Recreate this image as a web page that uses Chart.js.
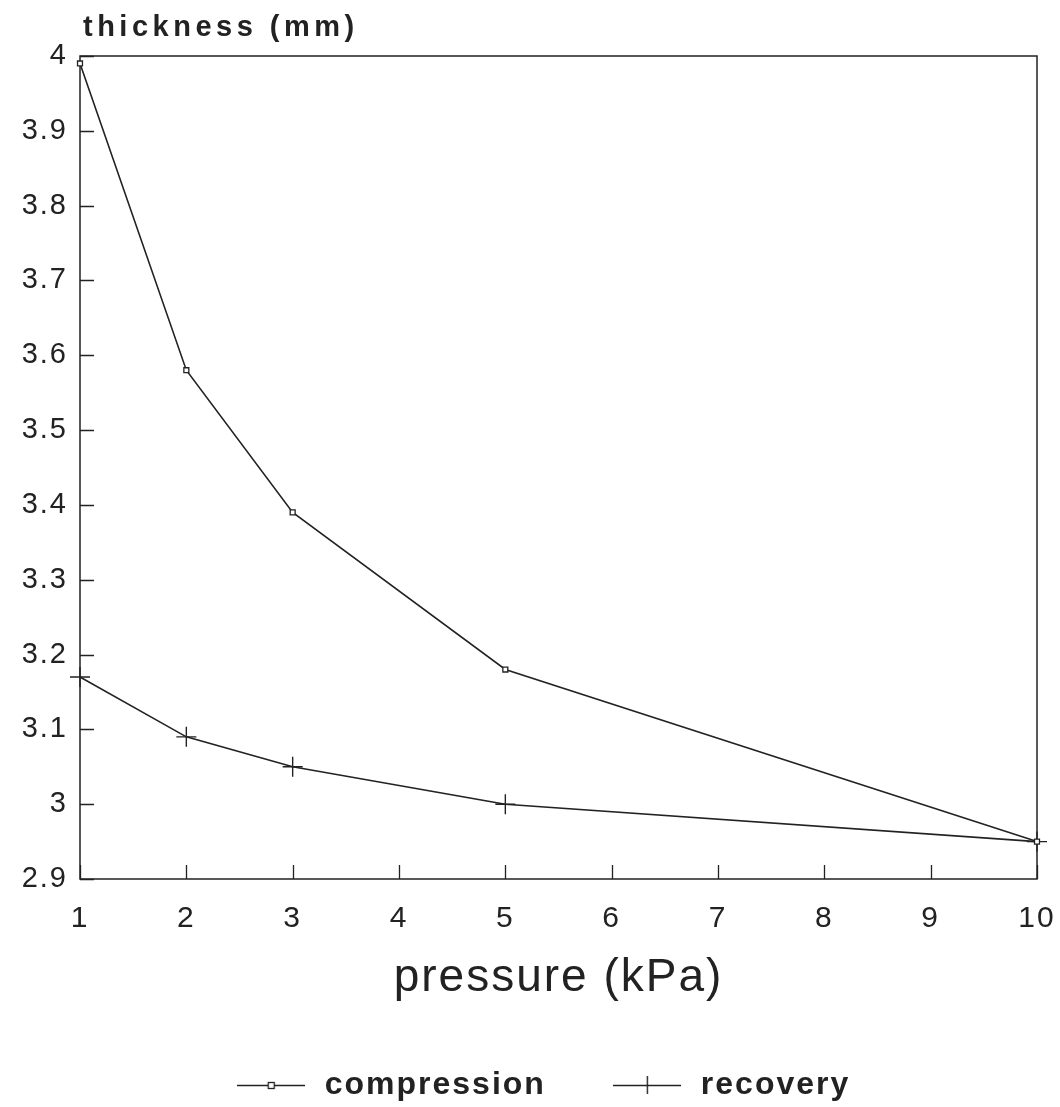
<!DOCTYPE html>
<html>
<head>
<meta charset="utf-8">
<script src="https://cdn.jsdelivr.net/npm/chart.js@4.4.1/dist/chart.umd.min.js"></script>
<style>
html,body{margin:0;padding:0;background:#ffffff;}
#wrap{width:1060px;height:1107px;position:relative;}
canvas{display:block;}
</style>
</head>
<body>
<div id="wrap"><canvas id="c" width="1060" height="1107"></canvas></div>
<script>
// ---- data ----
const pressure = [1, 2, 3, 5, 10];
const compression = [3.99, 3.58, 3.39, 3.18, 2.95];
const recovery = [3.17, 3.09, 3.05, 3.00, 2.95];
const seriesNames = ['compression', 'recovery'];
const xTickValues = [1, 2, 3, 4, 5, 6, 7, 8, 9, 10];
const xTickLabels = ['1', '2', '3', '4', '5', '6', '7', '8', '9', '10'];
const yTickValues = [2.9, 3.0, 3.1, 3.2, 3.3, 3.4, 3.5, 3.6, 3.7, 3.8, 3.9, 4.0];
const yTickLabels = ['2.9', '3', '3.1', '3.2', '3.3', '3.4', '3.5', '3.6', '3.7', '3.8', '3.9', '4'];
const xTitle = 'pressure (kPa)';
const yTitle = 'thickness (mm)';

// ---- style ----
const INK = '#222222';
const FONT = "'Liberation Sans', Arial, Helvetica, sans-serif";

function legendImage(kind) {
  const c = document.createElement('canvas');
  c.width = 68; c.height = 22;
  const g = c.getContext('2d');
  g.strokeStyle = INK; g.lineWidth = 1.4;
  g.beginPath(); g.moveTo(0, 11.5); g.lineTo(68, 11.5); g.stroke();
  if (kind === 'rect') {
    g.fillStyle = '#ffffff';
    g.fillRect(31.5, 8.5, 6, 6);
    g.lineWidth = 1.3;
    g.strokeRect(31.5, 8.5, 6, 6);
  } else {
    g.beginPath(); g.moveTo(34.5, 2); g.lineTo(34.5, 20); g.stroke();
  }
  return c;
}
const legendImages = [legendImage('rect'), legendImage('cross')];

const spacingPlugin = {
  id: 'spacing',
  beforeLayout(chart) { chart.ctx.letterSpacing = '2px'; },
  afterLayout(chart) { if (chart.legend) { chart.legend.left = 46; } },
  beforeDraw(chart) { chart.ctx.letterSpacing = '2px'; }
};

const framePlugin = {
  id: 'frame',
  beforeDatasetsDraw(chart) {
    const ctx = chart.ctx;
    const a = chart.chartArea;
    const xs = chart.scales.x, ys = chart.scales.y;
    ctx.save();
    ctx.strokeStyle = INK;
    ctx.lineWidth = 1.5;
    ctx.strokeRect(a.left, a.top, a.right - a.left, a.bottom - a.top);
    ctx.lineWidth = 1.3;
    ctx.beginPath();
    yTickValues.forEach(v => {
      const py = Math.round(ys.getPixelForValue(v)) + 0.5;
      ctx.moveTo(a.left, py); ctx.lineTo(a.left + 14, py);
    });
    xTickValues.forEach(v => {
      const px = Math.round(xs.getPixelForValue(v)) + 0.5;
      ctx.moveTo(px, a.bottom); ctx.lineTo(px, a.bottom - 14);
    });
    ctx.stroke();
    ctx.restore();
  },
  afterDraw(chart) {
    const ctx = chart.ctx;
    ctx.save();
    ctx.letterSpacing = '4.5px';
    ctx.fillStyle = INK;
    ctx.font = "bold 29px " + FONT;
    ctx.textAlign = 'left';
    ctx.textBaseline = 'alphabetic';
    ctx.fillText(yTitle, chart.chartArea.left + 3, 36);
    ctx.restore();
  }
};

const ctx = document.getElementById('c').getContext('2d');
new Chart(ctx, {
  type: 'scatter',
  data: {
    datasets: [
      {
        label: seriesNames[0],
        data: pressure.map((x, i) => ({ x: x, y: compression[i] })),
        showLine: true,
        borderColor: INK,
        borderWidth: 1.6,
        pointStyle: 'rect',
        pointRadius: 3.5,
        pointBackgroundColor: '#ffffff',
        pointBorderColor: INK,
        pointBorderWidth: 1.3,
        tension: 0,
        fill: false,
        clip: false
      },
      {
        label: seriesNames[1],
        data: pressure.map((x, i) => ({ x: x, y: recovery[i] })),
        showLine: true,
        borderColor: INK,
        borderWidth: 1.6,
        pointStyle: 'cross',
        pointRadius: 10,
        pointBackgroundColor: INK,
        pointBorderColor: INK,
        pointBorderWidth: 1.4,
        tension: 0,
        fill: false,
        clip: false
      }
    ]
  },
  options: {
    responsive: false,
    devicePixelRatio: 1,
    animation: false,
    events: [],
    layout: { padding: { top: 56, left: 0, right: 23, bottom: 0 } },
    scales: {
      x: {
        type: 'linear',
        min: 1, max: 10,
        grid: { display: false, drawTicks: false },
        border: { display: false },
        afterBuildTicks: s => { s.ticks = xTickValues.map(v => ({ value: v })); },
        afterFit: s => { s.height = 127; s.paddingLeft = 0; s.paddingRight = 0; },
        ticks: {
          autoSkip: false, maxRotation: 0, padding: 22,
          color: INK,
          font: { family: FONT, size: 30 },
          callback: (v, i) => xTickLabels[i]
        },
        title: {
          display: true, text: xTitle, color: INK,
          font: { family: FONT, size: 46 },
          padding: { top: 0, bottom: 0 }
        }
      },
      y: {
        type: 'linear',
        min: 2.9, max: 4.0,
        grid: { display: false, drawTicks: false },
        border: { display: false },
        afterBuildTicks: s => { s.ticks = yTickValues.map(v => ({ value: v })); },
        afterFit: s => { s.width = 80; s.paddingTop = 0; s.paddingBottom = 0; },
        ticks: {
          autoSkip: false, padding: 12,
          color: INK,
          font: { family: FONT, size: 29 },
          callback: (v, i) => yTickLabels[i]
        }
      }
    },
    plugins: {
      tooltip: { enabled: false },
      title: { display: false },
      legend: {
        display: true,
        position: 'bottom',
        maxHeight: 101,
        labels: {
          usePointStyle: true,
          pointStyleWidth: 76,
          padding: 63,
          color: INK,
          font: { family: FONT, size: 32, weight: 'bold' },
          generateLabels(chart) {
            const items = Chart.defaults.plugins.legend.labels.generateLabels(chart);
            items.forEach((it, i) => { it.pointStyle = legendImages[i]; it.fontColor = INK; });
            return items;
          }
        }
      }
    }
  },
  plugins: [spacingPlugin, framePlugin]
});
</script>
</body>
</html>
